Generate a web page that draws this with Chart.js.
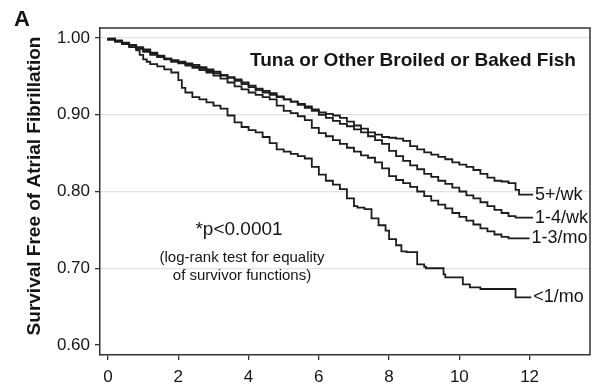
<!DOCTYPE html>
<html>
<head>
<meta charset="utf-8">
<script src="https://cdn.jsdelivr.net/npm/chart.js@4/dist/chart.umd.min.js"></script>
<style>
  html, body { margin: 0; padding: 0; background: #fff; }
  #wrap { width: 599px; height: 389px; position: relative; }
</style>
</head>
<body>
<div id="wrap"><canvas id="km"></canvas></div>
<script>
// survival curves (years of follow-up, survival free of AF)
const groups = ['5+/wk', '1-4/wk', '1-3/mo', '<1/mo'];

const t5wk = [0, 0.2, 0.4, 0.6, 0.8, 1.0, 1.2, 1.4, 1.6, 1.8, 2.0, 2.2, 2.4, 2.6, 2.8, 3.0, 3.2, 3.4, 3.6, 3.8, 4.0, 4.2, 4.4, 4.6, 4.8, 5.0, 5.2, 5.4, 5.6, 5.8, 6.0, 6.2, 6.4, 6.6, 6.8, 7.0, 7.2, 7.4, 7.6, 7.8, 8.0, 8.2, 8.4, 8.6, 8.8, 9.0, 9.2, 9.4, 9.6, 9.8, 10.0, 10.2, 10.4, 10.6, 10.8, 11.0, 11.2, 11.4, 11.6, 11.7, 11.85, 12.1];
const s5wk = [1.0, 0.999, 0.997, 0.994, 0.991, 0.988, 0.985, 0.981, 0.977, 0.973, 0.971, 0.969, 0.967, 0.965, 0.962, 0.959, 0.956, 0.952, 0.949, 0.946, 0.942, 0.938, 0.934, 0.931, 0.928, 0.924, 0.92, 0.917, 0.914, 0.911, 0.907, 0.903, 0.901, 0.899, 0.896, 0.891, 0.886, 0.882, 0.877, 0.874, 0.871, 0.870, 0.869, 0.866, 0.859, 0.855, 0.851, 0.848, 0.845, 0.842, 0.838, 0.835, 0.832, 0.828, 0.823, 0.818, 0.814, 0.813, 0.811, 0.802, 0.796, 0.796];

const t14wk = [0, 0.2, 0.4, 0.6, 0.8, 1.0, 1.2, 1.4, 1.6, 1.8, 2.0, 2.2, 2.4, 2.6, 2.8, 3.0, 3.2, 3.4, 3.6, 3.8, 4.0, 4.2, 4.4, 4.6, 4.8, 5.0, 5.2, 5.4, 5.6, 5.8, 6.0, 6.2, 6.4, 6.6, 6.8, 7.0, 7.2, 7.4, 7.6, 7.8, 8.0, 8.2, 8.4, 8.6, 8.8, 9.0, 9.2, 9.4, 9.6, 9.8, 10.0, 10.2, 10.4, 10.6, 10.8, 11.0, 11.2, 11.4, 11.6, 11.75, 12.1];
const s14wk = [1.0, 0.999, 0.996, 0.993, 0.99, 0.987, 0.984, 0.98, 0.976, 0.973, 0.97, 0.968, 0.966, 0.963, 0.96, 0.957, 0.954, 0.951, 0.948, 0.944, 0.94, 0.936, 0.932, 0.929, 0.926, 0.923, 0.92, 0.917, 0.913, 0.909, 0.905, 0.9, 0.896, 0.892, 0.888, 0.885, 0.881, 0.877, 0.872, 0.867, 0.862, 0.853, 0.846, 0.84, 0.834, 0.829, 0.823, 0.819, 0.814, 0.81, 0.805, 0.8, 0.795, 0.791, 0.786, 0.781, 0.776, 0.772, 0.768, 0.766, 0.766];

const t13mo = [0, 0.2, 0.4, 0.6, 0.8, 1.0, 1.2, 1.4, 1.6, 1.8, 2.0, 2.2, 2.4, 2.6, 2.8, 3.0, 3.2, 3.4, 3.6, 3.8, 4.0, 4.2, 4.4, 4.6, 4.8, 5.0, 5.2, 5.4, 5.6, 5.8, 6.0, 6.2, 6.4, 6.6, 6.8, 7.0, 7.2, 7.4, 7.6, 7.8, 8.0, 8.2, 8.4, 8.6, 8.8, 9.0, 9.2, 9.4, 9.6, 9.8, 10.0, 10.2, 10.4, 10.6, 10.8, 11.0, 11.2, 11.4, 11.45, 12.0];
const s13mo = [1.0, 0.998, 0.996, 0.993, 0.99, 0.986, 0.982, 0.978, 0.975, 0.972, 0.969, 0.967, 0.964, 0.961, 0.958, 0.955, 0.951, 0.947, 0.942, 0.937, 0.933, 0.929, 0.926, 0.923, 0.92, 0.912, 0.905, 0.902, 0.898, 0.893, 0.883, 0.876, 0.872, 0.867, 0.862, 0.857, 0.852, 0.847, 0.844, 0.838, 0.83, 0.82, 0.815, 0.811, 0.806, 0.8, 0.794, 0.788, 0.783, 0.778, 0.772, 0.767, 0.762, 0.757, 0.752, 0.748, 0.744, 0.741, 0.739, 0.739];

const tlt1 = [0, 0.2, 0.4, 0.6, 0.8, 0.9, 1.0, 1.1, 1.2, 1.4, 1.6, 1.8, 2.0, 2.1, 2.2, 2.4, 2.6, 2.8, 3.0, 3.2, 3.4, 3.6, 3.8, 4.0, 4.2, 4.4, 4.6, 4.8, 5.0, 5.2, 5.4, 5.6, 5.8, 6.0, 6.2, 6.4, 6.6, 6.8, 7.0, 7.1, 7.3, 7.5, 7.7, 7.9, 8.0, 8.2, 8.35, 8.5, 8.8, 9.0, 9.05, 9.55, 9.6, 10.1, 10.3, 10.6, 11.6, 11.65, 12.05];
const slt1 = [1.0, 0.998, 0.995, 0.992, 0.988, 0.984, 0.978, 0.972, 0.969, 0.966, 0.963, 0.959, 0.955, 0.945, 0.935, 0.929, 0.923, 0.92, 0.916, 0.912, 0.908, 0.899, 0.89, 0.884, 0.88, 0.877, 0.871, 0.863, 0.855, 0.852, 0.849, 0.846, 0.843, 0.832, 0.822, 0.814, 0.809, 0.803, 0.791, 0.781, 0.779, 0.777, 0.765, 0.756, 0.749, 0.738, 0.73, 0.722, 0.721, 0.705, 0.702, 0.7, 0.692, 0.688, 0.679, 0.675, 0.673, 0.662, 0.662];

const xTicks = [0, 2, 4, 6, 8, 10, 12];
const yTicks = [0.6, 0.7, 0.8, 0.9, 1.0];

const FONT = "'Liberation Sans', Arial, sans-serif";
const INK = '#151515';

const toPoints = (ts, ss) => ts.map((t, i) => ({ x: t, y: ss[i] }));

const series = [
    toPoints(t5wk, s5wk),
    toPoints(t14wk, s14wk),
    toPoints(t13mo, s13mo),
    toPoints(tlt1, slt1)
];

// frame, panel letter, heading, p-value note and the curve labels
const extras = {
    id: 'extras',
    afterDraw(chart) {
        const { ctx, chartArea: a, scales } = chart;
        ctx.save();

        ctx.strokeStyle = '#333';
        ctx.lineWidth = 1.5;
        ctx.beginPath();
        ctx.moveTo(a.left, a.top);
        ctx.lineTo(a.right, a.top);
        ctx.lineTo(a.right, a.bottom);
        ctx.stroke();

        ctx.fillStyle = INK;
        ctx.textBaseline = 'middle';

        ctx.font = `bold 22px ${FONT}`;
        ctx.textAlign = 'left';
        ctx.fillText('A', 14, 20);

        ctx.font = `bold 19px ${FONT}`;
        ctx.textAlign = 'center';
        ctx.fillText('Tuna or Other Broiled or Baked Fish', 413, 61);

        ctx.font = `19px ${FONT}`;
        ctx.fillText('*p<0.0001', 239, 230);
        ctx.font = `15px ${FONT}`;
        ctx.fillText('(log-rank test for equality', 242, 258);
        ctx.fillText('of survivor functions)', 242, 276);

        // y title
        ctx.save();
        ctx.translate(35, 186);
        ctx.rotate(-Math.PI / 2);
        ctx.font = `bold 19px ${FONT}`;
        ctx.fillText('Survival Free of Atrial Fibrillation', 0, 0);
        ctx.restore();

        // labels at the end of each curve
        ctx.font = `18px ${FONT}`;
        ctx.textAlign = 'left';
        series.forEach((pts, i) => {
            const last = pts[pts.length - 1];
            const x = scales.x.getPixelForValue(last.x) + 2;
            const y = scales.y.getPixelForValue(last.y);
            ctx.fillText(groups[i], x, y);
        });

        ctx.restore();
    }
};

new Chart(document.getElementById('km'), {
    type: 'line',
    data: {
        datasets: series.map((pts, i) => ({
            label: groups[i],
            data: pts,
            stepped: 'after',
            borderColor: '#1c1c1c',
            borderWidth: 1.8,
            pointRadius: 0,
            fill: false
        }))
    },
    options: {
        responsive: true,
        maintainAspectRatio: false,
        animation: false,
        layout: { padding: { top: 28, right: 9, left: 0, bottom: 0 } },
        plugins: {
            legend: { display: false },
            tooltip: { enabled: false }
        },
        scales: {
            x: {
                type: 'linear',
                min: -0.23,
                max: 13.72,
                afterBuildTicks: s => { s.ticks = xTicks.map(v => ({ value: v })); },
                afterFit: s => { s.height = 34; },
                grid: { drawOnChartArea: false, tickLength: 5, tickColor: '#333', lineWidth: 1.3 },
                border: { color: '#333', width: 1.5 },
                ticks: { color: INK, padding: 7, font: { family: FONT, size: 17 }, maxRotation: 0 }
            },
            y: {
                type: 'linear',
                min: 0.587,
                max: 1.013,
                afterBuildTicks: s => { s.ticks = yTicks.map(v => ({ value: v })); },
                afterFit: s => { s.width = 100; },
                grid: {
                    color: ctx => (ctx.tick && ctx.tick.value < 0.65 ? 'rgba(0,0,0,0)' : '#e2e2e2'),
                    tickLength: 5,
                    tickColor: '#333',
                    lineWidth: 1.3
                },
                border: { color: '#333', width: 1.5 },
                ticks: {
                    color: INK,
                    padding: 5,
                    font: { family: FONT, size: 17 },
                    callback: v => v.toFixed(2)
                }
            }
        }
    },
    plugins: [extras]
});
</script>
</body>
</html>
